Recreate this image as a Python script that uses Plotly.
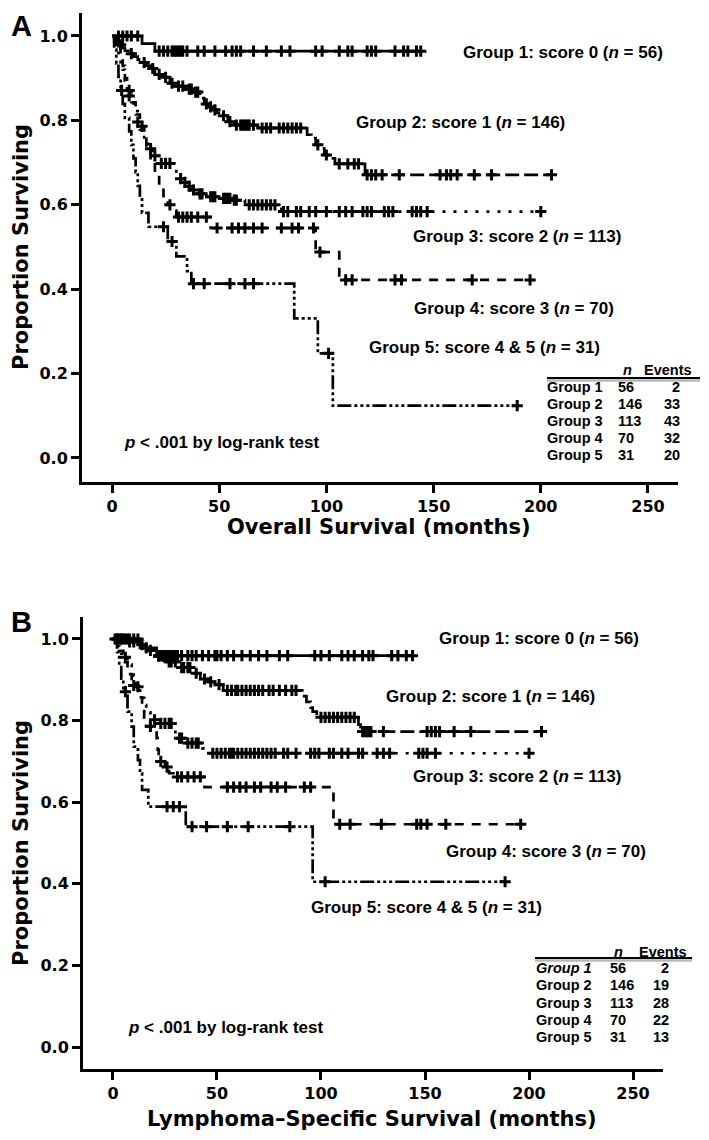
import plotly.graph_objects as go

# ================= DATA =================
# Panel A: Overall survival (months) – Kaplan-Meier steps
A_g1_t = [14, 20]
A_g1_s = [0.982, 0.964]
A_g1_end = 144
A_g1_cens = [3, 5, 7, 9, 12, 22, 24, 26, 28, 29, 30, 31, 32, 33, 35, 40, 43, 48, 53, 56, 58, 60,
             66, 72, 79, 83, 95, 98, 106, 110, 112, 119, 121, 123, 132, 136, 138, 142, 144]

A_g2_t = [1, 2, 3, 5, 6, 8, 10, 12, 14, 16, 18, 20, 23, 27, 30, 34, 38, 41, 43, 45, 47, 49, 51,
          54, 57, 68, 91, 93, 95, 97, 99, 101, 104, 118]
A_g2_s = [0.993, 0.986, 0.979, 0.972, 0.965, 0.958, 0.951, 0.944, 0.937, 0.930, 0.923, 0.909,
          0.902, 0.888, 0.881, 0.874, 0.867, 0.853, 0.839, 0.832, 0.825, 0.818, 0.811, 0.797,
          0.789, 0.782, 0.766, 0.758, 0.742, 0.734, 0.718, 0.710, 0.697, 0.671]
A_g2_end = 205
A_g2_cens = [4, 9, 15, 19, 22, 25, 28, 31, 33, 36, 37, 39, 40, 44, 46, 48, 52, 55, 58, 60, 61,
             62, 63, 64, 66, 70, 72, 74, 78, 80, 82, 84, 86, 88, 96, 100, 106, 110, 113, 115,
             119, 121, 123, 126, 134, 153, 156, 158, 161, 169, 177, 205]

A_g3_t = [1, 2, 3, 4, 5, 6, 7, 8, 9, 10, 11, 12, 13, 14, 15, 17, 19, 22, 29, 30, 31, 33, 35, 37,
          40, 44, 50, 56, 62, 79]
A_g3_s = [0.991, 0.973, 0.956, 0.938, 0.920, 0.894, 0.867, 0.858, 0.849, 0.840, 0.822, 0.796,
          0.778, 0.769, 0.751, 0.733, 0.716, 0.698, 0.680, 0.671, 0.662, 0.653, 0.644, 0.635,
          0.626, 0.619, 0.615, 0.611, 0.600, 0.584]
A_g3_end = 200
A_g3_cens = [8, 12, 18, 20, 23, 25, 27, 32, 34, 36, 38, 41, 42, 46, 47, 48, 52, 53, 54, 55, 57,
             58, 64, 66, 68, 70, 72, 74, 76, 80, 82, 86, 88, 92, 95, 100, 106, 109, 112, 117,
             119, 121, 127, 129, 131, 140, 142, 144, 147, 200]

A_g4_t = [2, 4, 5, 6, 7, 9, 11, 13, 15, 16, 18, 20, 22, 24, 26, 28, 30, 46, 95, 106]
A_g4_s = [0.986, 0.957, 0.929, 0.900, 0.871, 0.843, 0.814, 0.786, 0.757, 0.729, 0.700, 0.671,
          0.643, 0.614, 0.600, 0.586, 0.571, 0.545, 0.488, 0.422]
A_g4_end = 195
A_g4_cens = [3, 8, 14, 27, 31, 33, 35, 37, 40, 44, 49, 56, 59, 62, 66, 70, 79, 84, 87, 94, 97,
             109, 112, 132, 135, 168, 195]

A_g5_t = [1, 2, 3, 4, 5, 6, 8, 9, 10, 11, 12, 13, 14, 17, 26, 30, 35, 37, 85, 96, 103]
A_g5_s = [0.968, 0.935, 0.903, 0.871, 0.839, 0.806, 0.774, 0.742, 0.710, 0.677, 0.645, 0.613,
          0.581, 0.548, 0.513, 0.478, 0.443, 0.413, 0.331, 0.248, 0.124]
A_g5_end = 189
A_g5_cens = [4.5, 24, 28, 38, 43, 55, 62, 66, 101, 189]

# Panel B: Lymphoma-specific survival (months)
B_g1_t = [13, 21]
B_g1_s = [0.978, 0.959]
B_g1_end = 144
B_g1_cens = [1, 2, 3, 4, 5, 6, 7, 8, 10, 12, 16, 22, 23, 24, 25, 26, 27, 28, 29, 30, 31, 33, 36,
             38, 40, 43, 46, 49, 50, 52, 55, 58, 62, 66, 70, 74, 80, 84, 97, 100, 104, 110, 113,
             116, 120, 123, 125, 134, 137, 141, 144]

B_g2_t = [6, 12, 16, 20, 26, 32, 38, 42, 46, 49, 53, 91, 93, 95, 96, 98, 118, 119]
B_g2_s = [0.993, 0.986, 0.972, 0.958, 0.944, 0.930, 0.916, 0.902, 0.895, 0.888, 0.874, 0.860,
          0.846, 0.832, 0.822, 0.808, 0.790, 0.773]
B_g2_end = 206
B_g2_cens = [2, 4, 8, 10, 14, 18, 22, 24, 27, 28, 30, 33, 34, 36, 37, 40, 44, 47, 51, 55, 57, 59,
             60, 62, 64, 66, 68, 70, 72, 75, 77, 80, 83, 86, 88, 100, 102, 104, 106, 108, 110,
             112, 114, 116, 120, 121, 122, 123, 124, 130, 151, 153, 155, 157, 164, 172, 206]

B_g3_t = [1, 2, 3, 4, 5, 7, 8, 9, 10, 11, 12, 13, 14, 15, 16, 17, 18, 19, 22, 30, 31, 34, 43, 46]
B_g3_s = [0.991, 0.982, 0.973, 0.964, 0.955, 0.946, 0.937, 0.919, 0.910, 0.892, 0.883, 0.865,
          0.856, 0.838, 0.829, 0.820, 0.811, 0.802, 0.793, 0.766, 0.757, 0.745, 0.732, 0.720]
B_g3_end = 200
B_g3_cens = [6, 12, 20, 23, 25, 27, 28, 32, 33, 36, 38, 40, 41, 48, 50, 52, 54, 56, 57, 58, 60,
             62, 64, 66, 68, 70, 72, 74, 76, 78, 82, 84, 88, 95, 97, 99, 104, 106, 110, 113,
             118, 120, 127, 130, 133, 147, 149, 151, 155, 200]

B_g4_t = [3, 5, 7, 9, 12, 14, 15, 16, 21, 21.5, 22, 25, 27, 30, 44, 106]
B_g4_s = [0.971, 0.943, 0.914, 0.886, 0.857, 0.829, 0.800, 0.786, 0.757, 0.729, 0.700, 0.686,
          0.671, 0.662, 0.637, 0.546]
B_g4_end = 196
B_g4_cens = [10, 18, 23, 26, 31, 33, 36, 39, 42, 55, 58, 61, 64, 68, 71, 76, 79, 83, 92, 95,
             109, 114, 129, 146, 148, 151, 160, 196]

B_g5_t = [2, 3, 4, 5, 7, 9, 10, 12, 13, 14, 17, 35, 96]
B_g5_s = [0.968, 0.935, 0.903, 0.871, 0.822, 0.785, 0.736, 0.703, 0.671, 0.630, 0.589, 0.540,
          0.405]
B_g5_end = 188.5
B_g5_cens = [6, 26, 29, 32, 38, 45, 55, 65, 85, 102, 188.5]

group_labels = ["Group 1: score 0 (<i>n</i> = 56)", "Group 2: score 1 (<i>n</i> = 146)",
                "Group 3: score 2 (<i>n</i> = 113)", "Group 4: score 3 (<i>n</i> = 70)",
                "Group 5: score 4 &amp; 5 (<i>n</i> = 31)"]
table_groups = ["Group 1", "Group 2", "Group 3", "Group 4", "Group 5"]
table_n = [56, 146, 113, 70, 31]
A_events = [2, 33, 43, 32, 20]
B_events = [2, 19, 28, 22, 13]

x_ticks = [0, 50, 100, 150, 200, 250]
y_ticks = [0.0, 0.2, 0.4, 0.6, 0.8, 1.0]

# ================= STYLE / LAYOUT =================
OFF = 8                      # browser default body margin
W, H = 709 - 2 * OFF, 1140 - 2 * OFF


def PX(px):
    return (px - OFF) / W


def PY(py):
    return 1 - (py - OFF) / H


dashes = ["solid", "14px,5px", "3px,8px", "9px,8px", "14px,3px,3px,3px,3px,3px,3px,3px"]
LW = 2.7
TICKFONT = dict(family="DejaVu Sans", size=16, color="black", weight="bold")
TITLEFONT = dict(family="DejaVu Sans", size=21, color="black", weight="bold")
LABFONT = dict(family="Liberation Sans", size=17, color="black", weight="bold")
TABFONT = dict(family="Liberation Sans", size=14.5, color="black", weight="bold")

fig = go.Figure()


def surv_at(times, survs, t):
    s = 1.0
    for ti, si in zip(times, survs):
        if ti <= t:
            s = si
    return s


def add_group(times, survs, end, cens, dash, xa, ya):
    xs = [0] + list(times) + [end]
    ys = [1.0] + list(survs) + [survs[-1]]
    fig.add_trace(go.Scatter(x=xs, y=ys, mode="lines",
                             line=dict(shape="hv", color="black", width=LW, dash=dash),
                             xaxis=xa, yaxis=ya, showlegend=False, hoverinfo="skip"))
    cy = [surv_at(times, survs, c) for c in cens]
    fig.add_trace(go.Scatter(x=cens, y=cy, mode="markers",
                             marker=dict(symbol="cross-thin", size=8, color="black",
                                         line=dict(width=3, color="black")),
                             xaxis=xa, yaxis=ya, showlegend=False, hoverinfo="skip"))


A_groups = [(A_g1_t, A_g1_s, A_g1_end, A_g1_cens), (A_g2_t, A_g2_s, A_g2_end, A_g2_cens),
            (A_g3_t, A_g3_s, A_g3_end, A_g3_cens), (A_g4_t, A_g4_s, A_g4_end, A_g4_cens),
            (A_g5_t, A_g5_s, A_g5_end, A_g5_cens)]
B_groups = [(B_g1_t, B_g1_s, B_g1_end, B_g1_cens), (B_g2_t, B_g2_s, B_g2_end, B_g2_cens),
            (B_g3_t, B_g3_s, B_g3_end, B_g3_cens), (B_g4_t, B_g4_s, B_g4_end, B_g4_cens),
            (B_g5_t, B_g5_s, B_g5_end, B_g5_cens)]

for i, g in enumerate(A_groups):
    add_group(*g, dashes[i], "x", "y")
for i, g in enumerate(B_groups):
    add_group(*g, dashes[i], "x2", "y2")

axis_common = dict(showline=True, linewidth=3, linecolor="black", ticks="outside", ticklen=8,
                   tickwidth=3, tickcolor="black", showgrid=False, zeroline=False,
                   tickfont=TICKFONT)

fig.update_layout(
    width=W, height=H, margin=dict(l=0, r=0, t=0, b=0, autoexpand=False),
    paper_bgcolor="white", plot_bgcolor="white",
    xaxis=dict(domain=[PX(82), PX(678)], range=[-14.0, 264.0], anchor="y",
               tickvals=x_ticks, **axis_common),
    yaxis=dict(domain=[PY(482), PY(12.7)], range=[-0.0569, 1.0552], anchor="x",
               tickvals=y_ticks, tickformat=".1f", **axis_common),
    xaxis2=dict(domain=[PX(83), PX(663)], range=[-14.4, 264.4], anchor="y2",
                tickvals=x_ticks, **axis_common),
    yaxis2=dict(domain=[PY(1069), PY(617)], range=[-0.0539, 1.0539], anchor="x2",
                tickvals=y_ticks, tickformat=".1f", **axis_common),
)

ann = []


def A(text, x, y, xref="paper", yref="paper", font=LABFONT, xanchor="center",
      yanchor="middle", textangle=0):
    ann.append(dict(text=text, x=x, y=y, xref=xref, yref=yref, font=font, xanchor=xanchor,
                    yanchor=yanchor, showarrow=False, textangle=textangle, borderpad=0))


LETTERFONT = dict(family="Liberation Sans", size=29, color="black", weight="bold")
A("A", PX(21), PY(9), font=LETTERFONT, yanchor="top")
A("B", PX(21), PY(622), font=LETTERFONT)
# axis titles
A("Proportion Surviving", PX(21), PY(247), font=TITLEFONT, textangle=-90)
A("Proportion Surviving", PX(21), PY(843), font=TITLEFONT, textangle=-90)
A("Overall Survival (months)", PX(379), PY(527), font=TITLEFONT)
A("Lymphoma–Specific Survival (months)", PX(372), PY(1119), font=TITLEFONT)

# group labels (data coords)
A_lab_pos = [(163.2, 0.962), (113.3, 0.794), (139.9, 0.524), (140.4, 0.355), (119.4, 0.261)]
B_lab_pos = [(156.3, 1.002), (130.8, 0.858), (143.8, 0.662), (159.6, 0.478), (94.7, 0.341)]
for lab, (x, y) in zip(group_labels, A_lab_pos):
    A(lab, x, y, "x", "y", xanchor="left")
for lab, (x, y) in zip(group_labels, B_lab_pos):
    A(lab, x, y, "x2", "y2", xanchor="left")

A("<i>p</i> &lt; .001 by log-rank test", 5.1, 0.036, "x", "y", xanchor="left")
A("<i>p</i> &lt; .001 by log-rank test", 6.7, 0.047, "x2", "y2", xanchor="left")

shapes = []


def table(x_lab, x_n, x_ev, x_ncenter, x_evhdr, y_hdr, y_rows, line_x, line_y, events,
          italic_first):
    A("<i>n</i>", PX(x_ncenter), PY(y_hdr), font=TABFONT)
    A("Events", PX(x_evhdr), PY(y_hdr), font=TABFONT, xanchor="right")
    for k, (g, n, e, yy) in enumerate(zip(table_groups, table_n, events, y_rows)):
        gt = "<i>" + g + "</i>" if (italic_first and k == 0) else g
        A(gt, PX(x_lab), PY(yy), font=TABFONT, xanchor="left")
        A(str(n), PX(x_n), PY(yy), font=TABFONT, xanchor="left")
        A(str(e), PX(x_ev), PY(yy), font=TABFONT, xanchor="right")
    shapes.append(dict(type="line", xref="paper", yref="paper", x0=PX(line_x[0]),
                       x1=PX(line_x[1]), y0=PY(line_y + 2.5), y1=PY(line_y + 2.5),
                       line=dict(color="#b8b8b8", width=2.5)))
    shapes.append(dict(type="line", xref="paper", yref="paper", x0=PX(line_x[0]),
                       x1=PX(line_x[1]), y0=PY(line_y), y1=PY(line_y),
                       line=dict(color="black", width=2)))


table(546, 617, 681, 627, 693, 370, [387, 404, 421, 438, 455], (547, 700), 378,
      A_events, False)
table(535, 609, 670, 618, 688, 952, [968, 985, 1003, 1020, 1037], (535, 692), 958,
      B_events, True)

fig.update_layout(annotations=ann, shapes=shapes)
fig.write_html("out.html")
